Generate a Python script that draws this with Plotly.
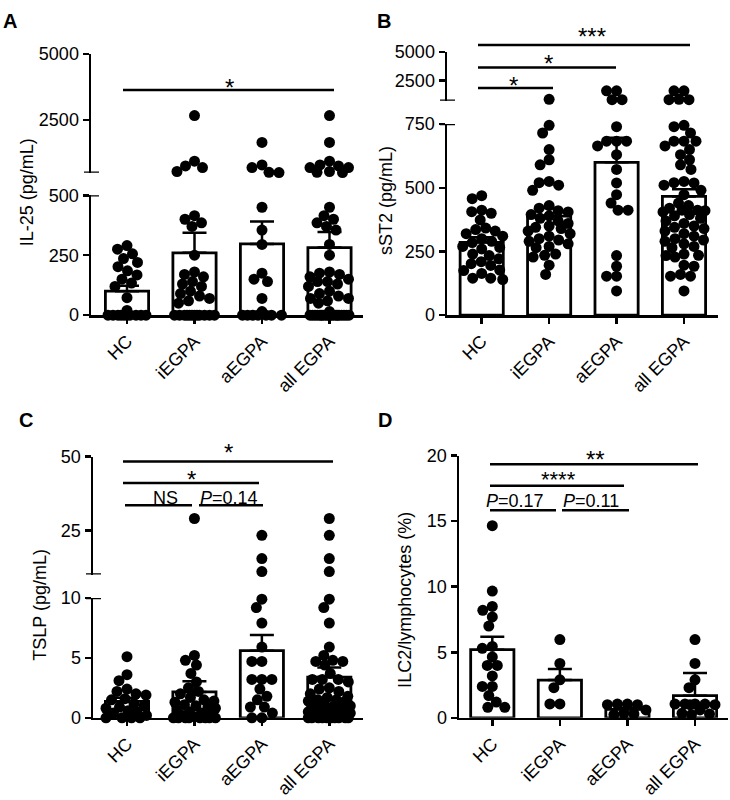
import numpy as np
import plotly.graph_objects as go

W, H = 730, 800
FONT = "Liberation Sans, Arial, Helvetica, sans-serif"

categories = ["HC", "iEGPA", "aEGPA", "all EGPA"]

# ---------------- Panel A : IL-25 (pg/mL) ----------------
il25_hc = [290, 275, 256, 236, 220, 202, 185, 168, 150, 134, 120, 73, 20,
           0, 0, 0, 0, 0, 0, 0, 0, 0, 0]
il25_iegpa = [2665, 940, 760, 700, 550, 415, 400, 385, 370, 250, 180, 170, 160,
              140, 130, 120, 100, 90, 80, 70, 60, 50,
              0, 0, 0, 0, 0, 0, 0, 0, 0, 0, 0, 0]
il25_aegpa = [1650, 800, 700, 520, 510, 450, 355, 295, 175, 150, 140, 70, 15,
              0, 0, 0, 0, 0, 0, 0]
il25_all = il25_iegpa + il25_aegpa
il25_mean = [100, 260, 297, 282]
il25_sem = [23, 84, 94, 65]

# ---------------- Panel B : sST2 (pg/mL) ----------------
sst2_hc = [469, 457, 412, 406, 400, 374, 342, 336, 330, 320, 310, 300, 290, 285,
           270, 266, 260, 240, 234, 221, 210, 202, 195, 177, 175, 164, 145, 145, 140]
sst2_iegpa = [870, 745, 715, 650, 610, 590, 525, 520, 510, 490, 430, 420, 410,
              405, 395, 390, 380, 370, 360, 350, 345, 340, 330, 320, 310, 300,
              295, 290, 280, 270, 265, 240, 235, 228, 196, 160]
sst2_aegpa = [1612, 1612, 836, 836, 740, 683, 683, 683, 664, 630, 572, 519, 473,
              440, 412, 412, 234, 192, 153, 153, 95]
sst2_all = sst2_iegpa + sst2_aegpa
sst2_mean = [286, 389, 600, 466]
sst2_sem = [20, 32, 96, 28]

# ---------------- Panel C : TSLP (pg/mL) ----------------
tslp_hc = [5.1, 3.6, 3.1, 2.4, 2.2, 2.0, 1.9, 1.6, 1.5, 1.2, 1.0, 0.9, 0.8, 0.6,
           0.5, 0.4, 0.2, 0, 0, 0, 0]
tslp_iegpa = [29, 5.2, 4.8, 4.4, 3.7, 3.0, 2.5, 2.2, 2.0, 1.7, 1.5, 1.4, 1.3, 1.1,
              1.0, 0.9, 0.8, 0.6, 0.5, 0.4, 0.3, 0.2, 0.1, 0, 0, 0, 0, 0, 0, 0, 0]
tslp_aegpa = [23.3, 15.4, 11, 9.9, 9.2, 7.9, 5.9, 4.7, 4.7, 3.2, 3.2, 3.2, 2.4,
              1.8, 1.5, 0.9, 0.9, 0.4, 0, 0]
tslp_all = tslp_iegpa + tslp_aegpa
tslp_mean = [1.38, 2.16, 5.6, 3.4]
tslp_sem = [0.3, 0.9, 1.3, 0.8]

# ---------------- Panel D : ILC2/lymphocytes (%) ----------------
ilc2_hc = [14.65, 9.67, 8.5, 8.2, 7.7, 7.0, 5.45, 5.3, 4.65, 4.0, 4.0, 3.2, 2.4,
           2.4, 1.7, 1.2, 0.8, 0.8]
ilc2_iegpa = [5.97, 4.15, 2.9, 2.3, 1.06, 1.06]
ilc2_aegpa = [1.05, 1.05, 1.0, 1.0, 0.6, 0.35, 0.3, 0.25]
ilc2_all = ilc2_iegpa + ilc2_aegpa
ilc2_mean = [5.2, 2.88, 0.65, 1.69]
ilc2_sem = [0.98, 0.84, 0.12, 1.73]

panels = [
    dict(letter="A", letter_xy=(10, 11),
         groups=[il25_hc, il25_iegpa, il25_aegpa, il25_all], mean=il25_mean, sem=il25_sem,
         ylabel="IL-25 (pg/mL)", ylabel_xy=(27, 187),
         low=dict(rng=[0, 500], ticks=[0, 250, 500], px=(313, 190)),
         high=dict(rng=[500, 5000], ticks=[2500, 5000], px=(167, 45)),
         yaxis_x=91, x_end=363, cats=[127, 194.5, 262, 329.5]),
    dict(letter="B", letter_xy=(384, 11),
         groups=[sst2_hc, sst2_iegpa, sst2_aegpa, sst2_all], mean=sst2_mean, sem=sst2_sem,
         ylabel="sST2 (pg/mL)", ylabel_xy=(386, 196),
         low=dict(rng=[0, 750], ticks=[0, 250, 500, 750], px=(313, 117)),
         high=dict(rng=[750, 5000], ticks=[2500, 5000], px=(93, 43)),
         yaxis_x=447, x_end=718, cats=[481.7, 549, 617, 684]),
    dict(letter="C", letter_xy=(26, 420),
         groups=[tslp_hc, tslp_iegpa, tslp_aegpa, tslp_all], mean=tslp_mean, sem=tslp_sem,
         ylabel="TSLP (pg/mL)", ylabel_xy=(40, 610),
         low=dict(rng=[0, 10], ticks=[0, 5, 10], px=(726, 603)),
         high=dict(rng=[10, 50], ticks=[25, 50], px=(579, 458)),
         yaxis_x=93, x_end=363, cats=[127, 194.3, 261.7, 329.3]),
    dict(letter="D", letter_xy=(385, 421),
         groups=[ilc2_hc, ilc2_iegpa, ilc2_aegpa, ilc2_all], mean=ilc2_mean, sem=ilc2_sem,
         ylabel="ILC2/lymphocytes (%)", ylabel_xy=(405, 605),
         low=dict(rng=[0, 20], ticks=[0, 5, 10, 15, 20], px=(726, 457)),
         high=None,
         yaxis_x=459, x_end=728, cats=[492.3, 560, 626.7, 695]),
]

# significance brackets: (x0, x1, y, label, label_x, label_y, fontsize)  in pixels
sig = [
    (123, 334, 82, "*", 229, 74, 24),
    (478, 690, 36, "***", 592, 22, 24),
    (478, 616, 59, "*", 548, 50, 24),
    (478, 553, 80, "*", 513, 72, 24),
    (123, 333, 463, "*", 228, 449, 24),
    (123, 259, 485, "*", 192, 477, 24),
    (125, 192, 508, "NS", 165, 500, 18),
    (199, 263, 508, "<i>P</i>=0.14", 229, 500, 18),
    (490, 698, 466, "**", 595, 456, 24),
    (490, 624, 488, "****", 558, 477, 22),
    (490, 556, 513, "<i>P</i>=0.17", 515, 504, 18),
    (562, 629, 513, "<i>P</i>=0.11", 591, 504, 18),
]


def swarm_offsets(vals, ppu_y, D=10.0, Wmax=21.0):
    ys = np.asarray(vals, float) * ppu_y
    n = len(ys)
    off = np.zeros(n)
    if n == 0:
        return off
    order = np.argsort(-ys, kind="stable")
    cands = np.arange(-Wmax, Wmax + 0.01, 0.5)
    pxs, pys = [], []
    for i in order:
        y = ys[i]
        if pxs:
            a = np.array(pxs)
            b = np.array(pys)
            d = np.sqrt((cands[:, None] - a[None, :]) ** 2 + (y - b[None, :]) ** 2).min(axis=1)
            ok = d >= D
            if ok.any():
                cc = cands[ok]
            else:
                cc = cands[d >= d.max() - 1e-9]
            c = cc[np.argmin(np.abs(cc))]
        else:
            c = 0.0
        off[i] = c
        pxs.append(c)
        pys.append(y)
    return off


def names(k):
    if k == 1:
        return "xaxis", "yaxis", "x", "y"
    return f"xaxis{k}", f"yaxis{k}", f"x{k}", f"y{k}"


fig = go.Figure()
layout = {}
shapes = []
annotations = []
LW = 2.5
tickfont = dict(family=FONT, size=18, color="black")
k = 0
for p in panels:
    cats = p["cats"]
    step = (cats[3] - cats[0]) / 3.0
    xr = [(p["yaxis_x"] - cats[0]) / step, 3 + (p["x_end"] - cats[3]) / step]
    xdom = [p["yaxis_x"] / W, p["x_end"] / W]
    segs = [("low", p["low"])]
    if p["high"]:
        segs.append(("high", p["high"]))
    low_top = p["low"]["rng"][1]
    for segname, seg in segs:
        k += 1
        xa, ya, xr_, yr_ = names(k)
        y0px, y1px = seg["px"]
        ydom = [1 - y0px / H, 1 - y1px / H]
        lo, hi = seg["rng"]
        ppu_y = (y0px - y1px) / (hi - lo)
        if segname == "low":
            layout[xa] = dict(domain=xdom, range=xr, anchor=yr_, showline=True,
                              linecolor="black", linewidth=LW, ticks="outside",
                              ticklen=6, tickwidth=LW, tickcolor="black",
                              tickvals=[0, 1, 2, 3], ticktext=categories,
                              tickangle=-45, tickfont=tickfont, showgrid=False,
                              zeroline=False, fixedrange=True)
        else:
            layout[xa] = dict(domain=xdom, range=xr, anchor=yr_, visible=False,
                              showgrid=False, zeroline=False)
        layout[ya] = dict(domain=ydom, range=[lo, hi], anchor=xr_, showline=True,
                          linecolor="black", linewidth=LW, ticks="outside", ticklen=6,
                          tickwidth=LW, tickcolor="black", tickvals=seg["ticks"],
                          ticktext=[str(t) for t in seg["ticks"]], tickfont=tickfont,
                          showgrid=False, zeroline=False, fixedrange=True)
        if segname == "low":
            fig.add_trace(go.Bar(
                x=[0, 1, 2, 3], y=p["mean"], width=0.64,
                marker=dict(color="white", line=dict(color="black", width=2.8)),
                error_y=dict(type="data", array=p["sem"], arrayminus=[0, 0, 0, 0],
                             symmetric=False, color="black", thickness=2.5, width=12),
                xaxis=xr_, yaxis=yr_, showlegend=False, hoverinfo="skip"))
        xs_all, ys_all = [], []
        for gi, vals in enumerate(p["groups"]):
            if segname == "low":
                v = [val for val in vals if val <= low_top]
            else:
                v = [val for val in vals if val > low_top]
            offs = swarm_offsets(np.array(v, float) - lo, ppu_y)
            xs_all += list(gi + offs / step)
            ys_all += v
        fig.add_trace(go.Scatter(
            x=xs_all, y=ys_all, mode="markers",
            marker=dict(color="black", size=11, line=dict(width=0)),
            xaxis=xr_, yaxis=yr_, cliponaxis=False, showlegend=False, hoverinfo="skip"))
    # break caps
    if p["high"]:
        kl = k - 1
        for (yref, yval) in ((names(kl)[3], p["low"]["rng"][1]), (names(k)[3], p["high"]["rng"][0])):
            shapes.append(dict(type="line", xref="paper", yref=yref,
                               x0=(p["yaxis_x"] - 7) / W, x1=(p["yaxis_x"] + 8) / W,
                               y0=yval, y1=yval, line=dict(color="black", width=LW)))
    # y title
    annotations.append(dict(text=p["ylabel"], x=p["ylabel_xy"][0] / W, y=1 - p["ylabel_xy"][1] / H,
                            xref="paper", yref="paper", showarrow=False, textangle=-90,
                            xanchor="center", yanchor="middle",
                            font=dict(family=FONT, size=18, color="black")))
    # panel letter
    annotations.append(dict(text="<b>" + p["letter"] + "</b>", x=p["letter_xy"][0] / W,
                            y=1 - p["letter_xy"][1] / H, xref="paper", yref="paper",
                            showarrow=False, xanchor="center", yanchor="middle",
                            font=dict(family=FONT, size=20, color="black")))

for (x0, x1, y, lab, lx, ly, fs) in sig:
    shapes.append(dict(type="line", xref="paper", yref="paper", x0=x0 / W, x1=x1 / W,
                       y0=1 - y / H, y1=1 - y / H, line=dict(color="black", width=LW)))
    dy = 5 if "*" in lab else 0
    annotations.append(dict(text=lab, x=lx / W, y=1 - (ly + dy) / H, xref="paper", yref="paper",
                            showarrow=False, xanchor="center", yanchor="middle",
                            font=dict(family=FONT, size=fs, color="black")))

fig.update_layout(width=W, height=H, autosize=False,
                  margin=dict(l=0, r=0, t=0, b=0, pad=0),
                  paper_bgcolor="white", plot_bgcolor="white",
                  bargap=0, shapes=shapes, annotations=annotations,
                  font=dict(family=FONT, color="black"), **layout)

fig.write_html("out.html", config={"displayModeBar": False, "staticPlot": True},
               post_script="document.body.style.margin='0px';document.body.style.padding='0px';")
